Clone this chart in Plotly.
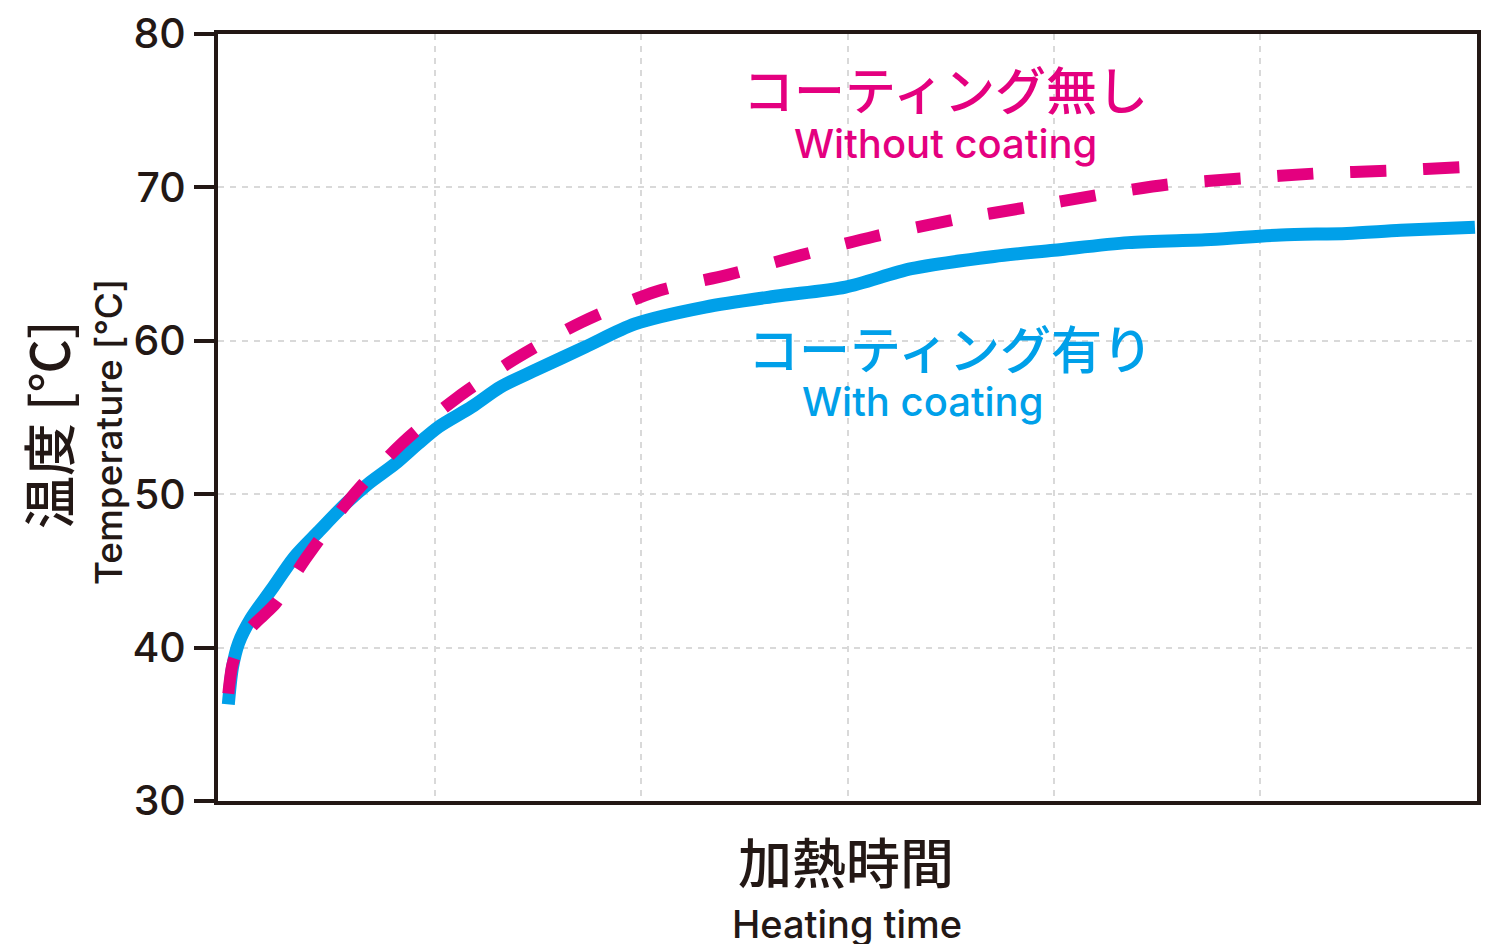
import plotly.graph_objects as go

# Heating time (arbitrary units, gridlines every 1) and temperatures [°C]
with_x = [0.00, 0.02, 0.05, 0.11, 0.21, 0.32, 0.44, 0.57, 0.68, 0.81, 0.92, 1.02, 1.18, 1.32,
          1.49, 1.73, 1.97, 2.31, 2.65, 2.99, 3.31, 3.71, 4.00, 4.36, 4.76, 5.10, 5.42, 5.68, 6.04]
with_y = [36.3, 38.7, 40.3, 41.9, 43.8, 45.9, 47.6, 49.4, 50.7, 52.0, 53.3, 54.4, 55.7, 57.0,
          58.1, 59.6, 61.1, 62.2, 62.9, 63.5, 64.7, 65.5, 65.9, 66.4, 66.6, 66.9, 67.0, 67.2, 67.4]

without_x = [0.00, 0.02, 0.05, 0.11, 0.17, 0.23, 0.38, 0.59, 0.84, 1.11, 1.40, 1.71, 2.07, 2.42,
             2.78, 3.13, 3.52, 3.87, 4.21, 4.56, 4.93, 5.26, 5.64, 6.00, 6.04]
without_y = [37.0, 38.9, 40.0, 41.3, 42.1, 42.9, 45.9, 49.7, 53.3, 56.3, 58.9, 61.2, 63.2, 64.3,
             65.6, 66.8, 67.9, 68.7, 69.5, 70.2, 70.6, 70.9, 71.1, 71.35, 71.4]

y_ticks = [30, 40, 50, 60, 70, 80]
x_grid = [1, 2, 3, 4, 5]

BLUE = "#00A0E9"
PINK = "#E4007F"
DARK = "#231815"
LATIN = "Inter, Liberation Sans, Arial, sans-serif"
CJK = "Noto Sans CJK JP, sans-serif"

fig = go.Figure()
fig.add_trace(go.Scatter(x=with_x, y=with_y, mode="lines",
                         line=dict(color=BLUE, width=13, shape="spline", smoothing=0.8),
                         showlegend=False))
fig.add_trace(go.Scatter(x=without_x, y=without_y, mode="lines",
                         line=dict(color=PINK, width=12, dash="36px,37px", shape="spline", smoothing=0.8),
                         showlegend=False))

OFF = 8  # page body margin
W, H = 1493 - OFF, 944 - OFF
L, R, T, B = 218 - OFF, 16, 34 - OFF, 143
pw, ph = W - L - R, H - T - B


def px(xs):
    return (xs - OFF - L) / pw


def py(ys):
    return (H - B - (ys - OFF)) / ph


annos = [
    dict(text="コーティング無し", x=px(945), y=py(88), font=dict(family=CJK, size=51, color=PINK, weight=500)),
    dict(text="Without coating", x=px(945), y=py(143), font=dict(family=LATIN, size=40, color=PINK, weight=500)),
    dict(text="コーティング有り", x=px(950), y=py(347), font=dict(family=CJK, size=51, color=BLUE, weight=500)),
    dict(text="With coating", x=px(922), y=py(402), font=dict(family=LATIN, size=40, color=BLUE, weight=500)),
    dict(text="加熱時間", x=px(846), y=py(860), font=dict(family=CJK, size=54, color=DARK, weight=500)),
    dict(text="Heating time", x=px(847), y=py(924), font=dict(family=LATIN, size=38, color=DARK, weight=500)),
    dict(text="温度 [℃]", x=px(47), y=py(425), textangle=-90, font=dict(family=CJK, size=53, color=DARK, weight=500)),
    dict(text="Temperature [℃]", x=px(108), y=py(432), textangle=-90, font=dict(family=LATIN, size=37, color=DARK, weight=500)),
]
for a in annos:
    a.update(xref="paper", yref="paper", showarrow=False, xanchor="center", yanchor="middle")

fig.update_layout(
    width=W, height=H,
    margin=dict(l=L, r=R, t=T, b=B, autoexpand=False),
    paper_bgcolor="white", plot_bgcolor="white",
    annotations=annos,
    xaxis=dict(range=[-0.05, 6.05], tickvals=x_grid, showticklabels=False, ticks="",
               automargin=False,
               showgrid=True, gridcolor="#d9d9d9", gridwidth=1.5, griddash="6px,6px",
               zeroline=False, showline=True, linecolor=DARK, linewidth=4, mirror=True),
    yaxis=dict(range=[30, 80], tickvals=y_ticks, ticks="outside", ticklen=20, tickwidth=4,
               automargin=False,
               tickcolor=DARK, tickfont=dict(family=LATIN, size=41, color=DARK, weight=500),
               showgrid=True, gridcolor="#d9d9d9", gridwidth=1.5, griddash="6px,6px",
               zeroline=False, showline=True, linecolor=DARK, linewidth=4, mirror=True),
)

fig.write_html("out.html")
